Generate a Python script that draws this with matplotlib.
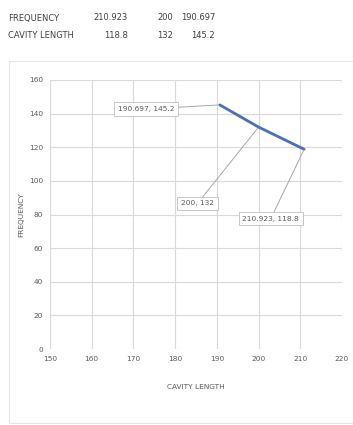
import matplotlib.pyplot as plt
from matplotlib.patches import Rectangle

# table values shown above the chart
row_names = ['FREQUENCY', 'CAVITY LENGTH']
freq = [210.923, 200, 190.697]
cavity = [118.8, 132, 145.2]
freq_txt = ['210.923', '200', '190.697']
cavity_txt = ['118.8', '132', '145.2']

x_ticks = [150, 160, 170, 180, 190, 200, 210, 220]
y_ticks = [0, 20, 40, 60, 80, 100, 120, 140, 160]

# label offsets (points) for each data label, same order as data
label_offsets = [(-24, -50), (-44, -55), (-53, -3)]

plt.rcParams['font.family'] = ['Liberation Sans Narrow', 'DejaVu Sans']
txt_col = '#595959'

fig = plt.figure(figsize=(3.53, 4.25), dpi=100)

# header table
col_right = [128 / 353, 173 / 353, 215 / 353]
rows = [(row_names[0], freq_txt), (row_names[1], cavity_txt)]
for r, (name, vals) in enumerate(rows):
    y = 1 - (18 + 17 * r) / 425
    fig.text(8 / 353, y, name, fontsize=6, color='#404040', va='center')
    for cx, v in zip(col_right, vals):
        fig.text(cx, y, v, fontsize=6, color='#404040', va='center', ha='right')

# faint chart frame
fig.patches.append(Rectangle((9 / 353, 2 / 425), 1, 362 / 425, transform=fig.transFigure,
                             fill=False, edgecolor='#E6E6E6', lw=0.8))

ax = fig.add_axes([50 / 353, 76 / 425, 292 / 353, 269 / 425])
ax.plot(freq, cavity, color='#4A6FB5', lw=2, solid_capstyle='round')

ax.set_xlim(150, 220)
ax.set_ylim(0, 160)
ax.set_xticks(x_ticks)
ax.set_yticks(y_ticks)
ax.grid(True, color='#D9D9D9', lw=0.8)
ax.set_axisbelow(True)
for s in ax.spines.values():
    s.set_visible(False)
ax.tick_params(length=0, labelsize=5.3, colors=txt_col, pad=5)
ax.set_xlabel('CAVITY LENGTH', fontsize=5.3, color=txt_col, labelpad=16)
ax.set_ylabel('FREQUENCY', fontsize=5.3, color=txt_col, labelpad=3)

for x, y, xt, yt, off in zip(freq, cavity, freq_txt, cavity_txt, label_offsets):
    ax.annotate(f'{xt}, {yt}', xy=(x, y), xytext=off, textcoords='offset points',
                ha='center', va='center', fontsize=5.3, color=txt_col,
                bbox=dict(boxstyle='square,pad=0.5', fc='white', ec='#BFBFBF', lw=0.6),
                arrowprops=dict(arrowstyle='-', color='#A6A6A6', lw=0.7,
                                shrinkA=0, shrinkB=1))

fig.savefig('out.png', dpi=100)
